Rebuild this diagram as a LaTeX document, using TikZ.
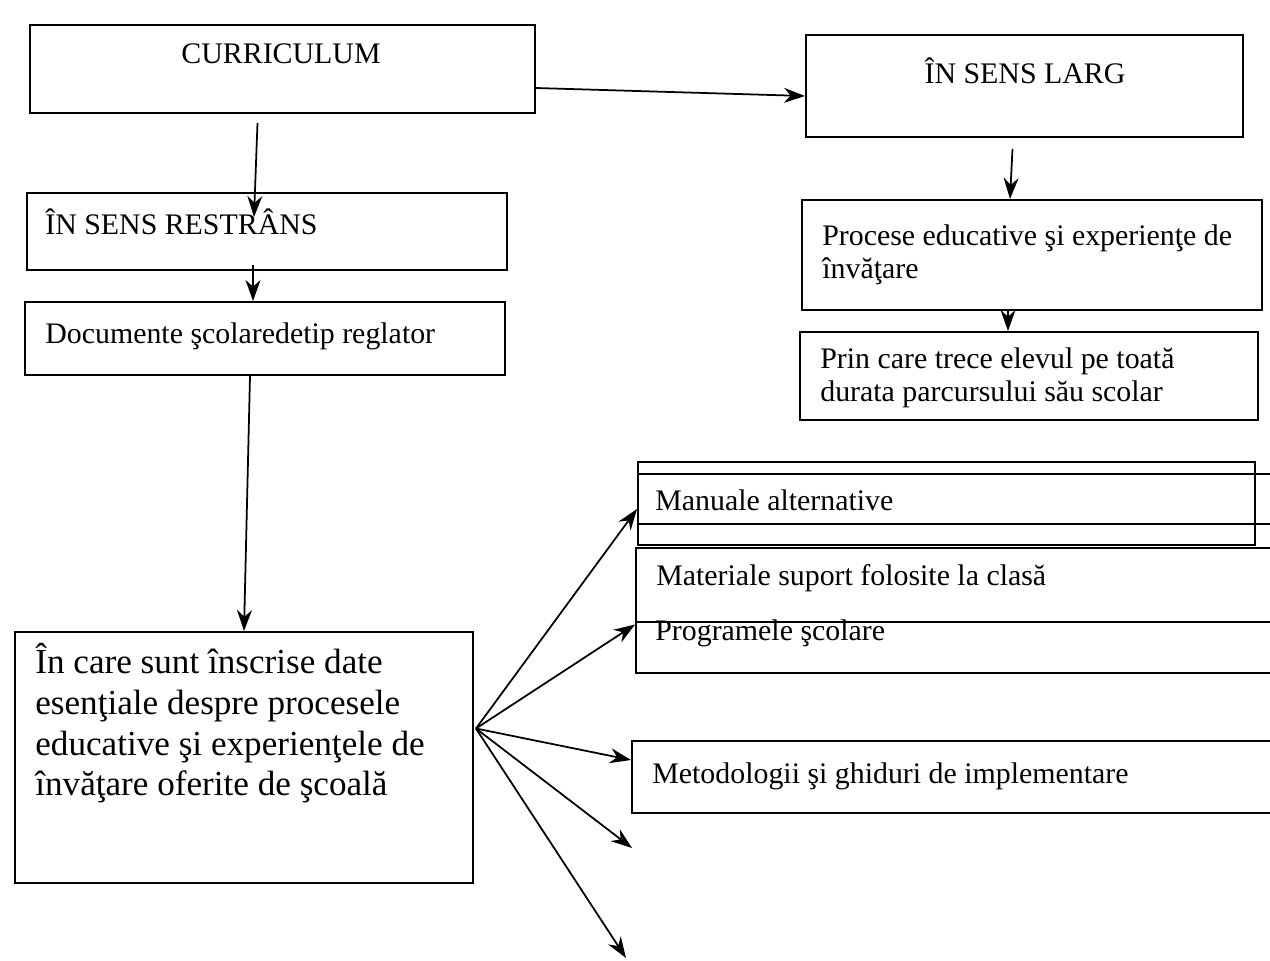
\documentclass[tikz,border=0pt]{standalone}
\usepackage{fontspec}
\setmainfont{Liberation Serif}
\newfontfamily\lserif{Liberation Serif}
\usetikzlibrary{arrows.meta,fit,calc}
\begin{document}
\begin{tikzpicture}[x=0.02cm,y=-0.02cm,
  box/.style={draw, line width=1.1pt, inner sep=0pt},
  arr/.style={-{Stealth[length=12pt,width=8.5pt]}, line width=1pt},
  txt/.style={inner sep=0pt, align=left, font=\lserif\fontsize{17}{19}\selectfont},
  bigtxt/.style={inner sep=0pt, align=left, font=\lserif\fontsize{20}{23.2}\selectfont}]
\useasboundingbox (0,0) rectangle (1270,960);
\clip (0,0) rectangle (1270,960);
\fill[white] (0,0) rectangle (1270,960);
% boxes
\node[box, fit={(30,25) (535,113)}] (cur) {};
\node[box, fit={(806,35) (1243,137)}] (larg) {};
\node[box, fit={(27,193) (507,270)}] (restr) {};
\node[box, fit={(25,302) (505,375)}] (doc) {};
\node[box, fit={(15,632) (473,883)}] (big) {};
\node[box, fit={(802,200) (1262,310)}] (proc) {};
\node[box, fit={(800,332) (1258,420)}] (prin) {};
\node[box, fit={(638,462) (1255,545)}] (manout) {};
\node[box, fit={(638,474) (1290,524)}] (man) {};
\node[box, fit={(636,548) (1290,622)}] (mat) {};
\node[box, fit={(636,622) (1290,673)}] (prog) {};
\node[box, fit={(632,741) (1290,813)}] (met) {};
% texts
\node[txt, anchor=base] (tcur) at (281,63) {CURRICULUM};
\node[txt, anchor=base] (tlarg) at (1025,83) {ÎN SENS LARG};
\node[txt, anchor=base west] (trestr) at (45,234) {ÎN SENS RESTRÂNS};
\node[txt, anchor=base west] (tdoc) at (45,343) {Documente şcolaredetip reglator};
\node[txt, anchor=north west] (tproc) at (822,224) {Procese educative şi experienţe de\\învăţare};
\node[txt, anchor=north west] (tprin) at (820,347) {Prin care trece elevul pe toată\\durata parcursului său scolar};
\node[bigtxt, anchor=north west] (tbig) at (35,643) {În care sunt înscrise date\\esenţiale despre procesele\\educative şi experienţele de\\învăţare oferite de şcoală};
\node[txt, anchor=base west] (tman) at (655,510) {Manuale alternative};
\node[txt, anchor=base west] (tmat) at (656,585) {Materiale suport folosite la clasă};
\node[txt, anchor=base west] (tprog) at (655,640) {Programele şcolare};
\node[txt, anchor=base west] (tmet) at (652,783) {Metodologii şi ghiduri de implementare};
% connectors
\draw[arr] ($(cur.east)+(0,19)$) -- ($(larg.west)+(0,10)$);
\draw[arr] ($(cur.south)+(-25,9)$) -- ($(restr.north)+(-13,25)$);
\draw[arr] ($(restr.south)+(-14,-6)$) -- ($(doc.north)+(-12,0)$);
\draw[arr] ($(doc.south)+(-15,0)$) -- ($(big.north)+(0,0)$);
\draw[arr] ($(larg.south)+(-12,11)$) -- ($(proc.north)+(-22,0)$);
\draw[arr] ($(proc.south)+(-24,0)$) -- ($(prin.north)+(-21,0)$);
\coordinate (fan) at ($(big.east)+(2,-29)$);
\coordinate (f1) at (632,848);
\coordinate (f2) at (626,958);
\draw[arr] (fan) -- ($(man.west)+(0,10)$);
\draw[arr] (fan) -- ($(prog.west)+(0,-23)$);
\draw[arr] (fan) -- ($(met.west)+(0,-17)$);
\draw[arr] (fan) -- (f1);
\draw[arr] (fan) -- (f2);
\end{tikzpicture}
\end{document}
